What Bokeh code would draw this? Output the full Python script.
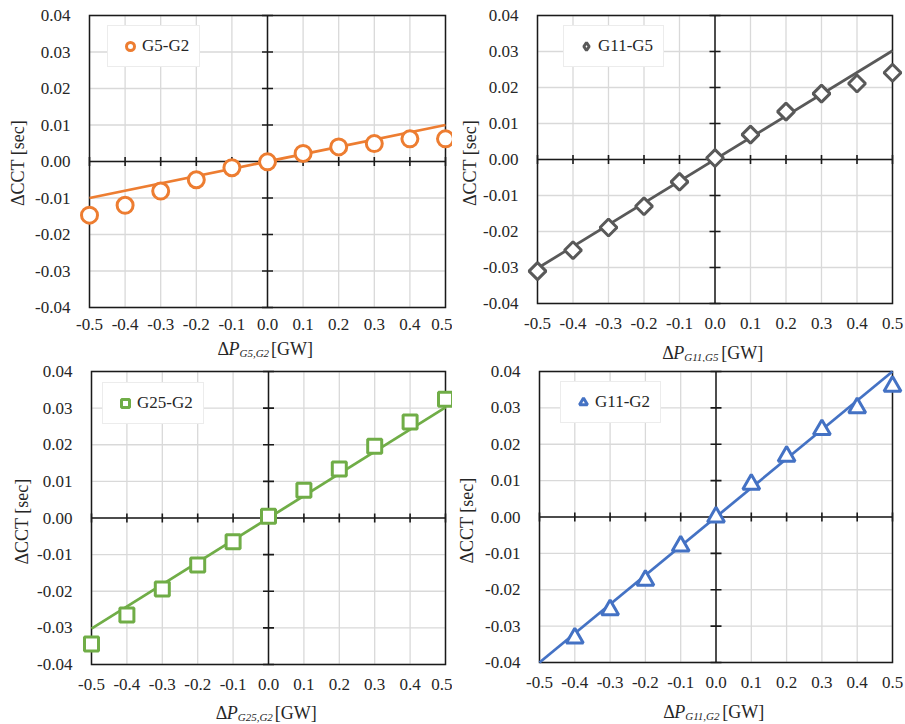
import math
from bokeh.plotting import figure
from bokeh.models import Range1d, FixedTicker
from bokeh.core.properties import value
from bokeh.layouts import column, row
from bokeh.embed import file_html
from bokeh.resources import INLINE

# ---------------- data ----------------
x_values = [-0.5, -0.4, -0.3, -0.2, -0.1, 0.0, 0.1, 0.2, 0.3, 0.4, 0.5]
x_ticks = [-0.5, -0.4, -0.3, -0.2, -0.1, 0.0, 0.1, 0.2, 0.3, 0.4, 0.5]
x_tick_labels = ["-0.5", "-0.4", "-0.3", "-0.2", "-0.1", "0.0", "0.1", "0.2", "0.3", "0.4", "0.5"]
y_ticks = [-0.04, -0.03, -0.02, -0.01, 0.0, 0.01, 0.02, 0.03, 0.04]
y_tick_labels = ["-0.04", "-0.03", "-0.02", "-0.01", "0.00", "0.01", "0.02", "0.03", "0.04"]

g5_g2 = [-0.0147, -0.0120, -0.0081, -0.0050, -0.0017, -0.0001, 0.0022, 0.0040, 0.0049, 0.0062, 0.0062]
g11_g5 = [-0.0310, -0.0252, -0.0189, -0.0130, -0.0062, 0.0004, 0.0069, 0.0133, 0.0183, 0.0211, 0.0241]
g25_g2 = [-0.0344, -0.0265, -0.0194, -0.0128, -0.0065, 0.0005, 0.0076, 0.0134, 0.0196, 0.0262, 0.0324]
g11_g2_x = [-0.4, -0.3, -0.2, -0.1, 0.0, 0.1, 0.2, 0.3, 0.4, 0.5]
g11_g2 = [-0.0333, -0.0255, -0.0174, -0.0080, 0.0000, 0.0090, 0.0167, 0.0240, 0.0300, 0.0359]

trend_x = [-0.5, 0.5]
g5_g2_trend = [-0.0100, 0.0100]
g11_g5_trend = [-0.0302, 0.0302]
g25_g2_trend = [-0.0302, 0.0302]
g11_g2_trend = [-0.0400, 0.0400]

FONT = "Liberation Serif"
TXT = "#262626"
AX = "#1a1a1a"
GRID = "#d9d9d9"

# Times-compatible advance widths (per 1000 em)
W = {"Δ": 612, "P": 611, "G": 722, "W": 944, "[": 333, "]": 333, " ": 250, ",": 250,
     "0": 500, "1": 500, "2": 500, "5": 500}


def tw(s, size):
    return sum(W.get(c, 500) for c in s) * size / 1000.0


def make_panel(xs, ys, tx, ty, color, marker, msize, mangle, legend, legend_marker, sub,
               cw, ch, fl, ft, fw, fh, panel_h, pb, xtick_off, leg_dx, leg_dy,
               xlab_base, ylab_standoff):
    xmin, xmax = x_ticks[0], x_ticks[-1]
    ymin, ymax = y_ticks[0], y_ticks[-1]
    pl = 12
    pr = min(12, cw - fl - fw)
    pt = min(5, ft)
    ux = (xmax - xmin) / fw
    uy = (ymax - ymin) / fh
    bl = fl - pl
    br = cw - fl - fw - pr
    p = figure(frame_width=fw + pl + pr, frame_height=fh + pt + pb,
               min_border_left=bl, min_border_right=br,
               min_border_top=ft - pt, min_border_bottom=panel_h - ft - fh - pb,
               x_range=Range1d(xmin - pl * ux, xmax + pr * ux),
               y_range=Range1d(ymin - pb * uy, ymax + pt * uy),
               output_backend="svg", toolbar_location=None, title=None,
               background_fill_color="white", border_fill_color="white",
               outline_line_color=None)
    p.xaxis.ticker = FixedTicker(ticks=x_ticks)
    p.yaxis.ticker = FixedTicker(ticks=y_ticks)
    p.xaxis.major_label_overrides = {t: l for t, l in zip(x_ticks, x_tick_labels)}
    p.yaxis.major_label_overrides = {t: l for t, l in zip(y_ticks, y_tick_labels)}
    for ax in (p.xaxis, p.yaxis):
        ax.axis_line_color = None
        ax.major_tick_line_color = None
        ax.minor_tick_line_color = None
        ax.major_tick_out = 0
        ax.major_tick_in = 0
        ax.major_label_text_font = FONT
        ax.major_label_text_font_size = "17px"
        ax.major_label_text_color = TXT
    p.xaxis.major_label_standoff = xtick_off - pb
    p.yaxis.major_label_standoff = 19 - pl
    p.yaxis.axis_label = "ΔCCT [sec]"
    p.yaxis.axis_label_text_font = FONT
    p.yaxis.axis_label_text_font_size = "18px"
    p.yaxis.axis_label_text_font_style = "normal"
    p.yaxis.axis_label_text_color = TXT
    p.yaxis.axis_label_standoff = ylab_standoff
    p.grid.grid_line_color = None

    nx, ny = len(x_ticks), len(y_ticks)
    # gridlines
    p.segment(x0=x_ticks, y0=[ymin] * nx, x1=x_ticks, y1=[ymax] * nx,
              line_color=GRID, line_width=1.3)
    p.segment(x0=[xmin] * ny, y0=y_ticks, x1=[xmax] * ny, y1=y_ticks,
              line_color=GRID, line_width=1.3)
    # plot-area border
    p.quad(left=[xmin], right=[xmax], bottom=[ymin], top=[ymax], fill_color=None,
           line_color=AX, line_width=1.5, line_join="miter")
    # centre axes with tick marks
    p.segment(x0=[xmin, 0], y0=[0, ymin], x1=[xmax, 0], y1=[0, ymax],
              line_color=AX, line_width=1.5)
    p.scatter(x=x_ticks, y=[0] * nx, marker="dash", angle=math.pi / 2, size=9,
              line_color=AX, line_width=1.6)
    p.scatter(x=[0] * ny, y=y_ticks, marker="dash", size=11,
              line_color=AX, line_width=1.6)

    # series
    p.line(tx, ty, line_color=color, line_width=2.75)
    if legend_marker is None:
        p.scatter(xs, ys, marker=marker, size=msize, angle=mangle, line_color=color,
                  line_width=3, fill_color="white", legend_label=legend)
    else:
        p.scatter(xs, ys, marker=marker, size=msize, angle=mangle, line_color=color,
                  line_width=3, fill_color="white")
        p.scatter(xs, ys, marker=legend_marker, size=msize, line_color=color,
                  line_width=3, fill_color="white", legend_label=legend, visible=False)

    lg = p.legend[0]
    lg.label_text_font = FONT
    lg.label_text_font_size = "17px"
    lg.label_text_color = TXT
    lg.padding = 10
    lg.glyph_width = 24
    lg.glyph_height = 20
    lg.label_height = 20
    lg.label_standoff = 0
    lg.margin = 0
    lg.border_line_color = GRID
    lg.border_line_width = 1.2
    lg.background_fill_color = "white"
    lg.background_fill_alpha = 1.0
    leg_h = 40
    lg.location = (pl + leg_dx, fh + pb - leg_dy - leg_h)

    # strip below the panel holding the x-axis title (Δ, italic P, italic subscript, [GW]);
    # its frame lines up with the panel's frame, x measured in canvas pixels
    strip_h = ch - panel_h
    s = figure(frame_width=fw + pl + pr, frame_height=strip_h,
               min_border_left=bl, min_border_right=br, min_border_top=0, min_border_bottom=0,
               x_range=Range1d(bl, bl + fw + pl + pr), y_range=Range1d(0, strip_h),
               x_axis_type=None, y_axis_type=None, title=None,
               output_backend="svg", toolbar_location=None,
               background_fill_color="white", border_fill_color="white",
               outline_line_color=None)
    s.grid.grid_line_color = None
    main, small = 18, 11
    pieces = [("Δ", "normal", main, 0, 0), ("P", "italic", main, 0, 0),
              (sub, "italic", small, 4, 0), (" [GW]", "normal", main, 0, 2)]
    total = sum(tw(t, sz) + gap for t, _, sz, _, gap in pieces)
    px = fl + fw / 2.0 - total / 2.0
    base = strip_h - (ft + fh + xlab_base - panel_h)
    for t, style, sz, drop, gap in pieces:
        px += gap
        s.text(x=[px], y=[base - drop], text=[t], text_font=value(FONT),
               text_font_size=value(f"{sz}px"), text_font_style=value(style),
               text_color=TXT, text_align=value("left"), text_baseline=value("alphabetic"))
        px += tw(t, sz)
    return column(p, s, spacing=0)


c1 = make_panel(x_values, g5_g2, trend_x, g5_g2_trend, "#ED7D31", "circle", 16, 0,
                "G5-G2", None, "G5,G2", 452, 362, 89, 15, 356, 292, 338, 8, 11, 18, 12, 41, 4)
c2 = make_panel(x_values, g11_g5, trend_x, g11_g5_trend, "#595959", "square", 12, math.pi / 4,
                "G11-G5", "diamond", "G11,G5", 453, 362, 85, 15, 355, 288, 341, 12, 14, 26, 12, 49, 0)
c3 = make_panel(x_values, g25_g2, trend_x, g25_g2_trend, "#70AD47", "square", 14, 0,
                "G25-G2", None, "G25,G2", 452, 362, 91, 9, 354, 293, 341, 12, 14, 11, 13, 48, 2)
c4 = make_panel(g11_g2_x, g11_g2, trend_x, g11_g2_trend, "#4472C4", "triangle", 17, 0,
                "G11-G2", None, "G11,G2", 453, 362, 87, 9, 353, 291, 341, 12, 14, 21, 12, 49, 5)

layout = column(row(c1, c2, spacing=0), row(c3, c4, spacing=0), spacing=0)

open("out.html", "w").write(file_html(layout, INLINE))
